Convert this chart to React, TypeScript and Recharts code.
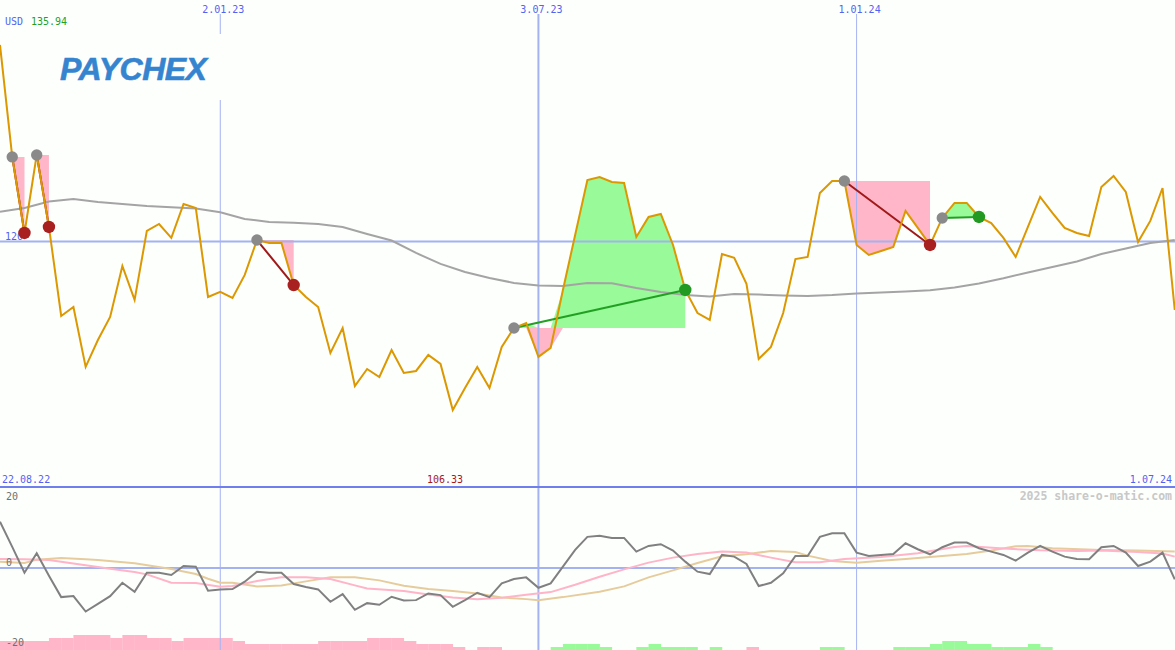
import React from 'react';
import { ComposedChart, Line, Area, Bar, XAxis, YAxis, ReferenceLine } from 'recharts';

// ---------- data ----------
const dateLabels = ['2.01.23', '3.07.23', '1.01.24'];
const dateIdx = [18, 44, 70];
const rangeStart = '22.08.22';
const rangeEnd = '1.07.24';
const currency = 'USD';
const maxLabel = '135.94';
const minLabel = '106.33';
const priceLevel = 120;
const oscTicks = ['20', '0', '-20'];
const watermark = '2025 share-o-matic.com';

const price = [
  135.94, 126.86, 120.69, 127.02, 121.18, 113.96, 114.69, 109.83, 112.01, 113.88,
  118.02, 115.26, 120.86, 121.42, 120.29, 123.04, 122.72, 115.5, 115.91, 115.42,
  117.29, 120.12, 119.88, 119.88, 116.47, 115.5, 114.69, 110.96, 112.99, 108.28,
  109.66, 109.01, 111.2, 109.34, 109.5, 110.8, 110.07, 106.33, 108.12, 109.83,
  108.12, 111.45, 112.99, 113.39, 110.64, 111.37, 116.07, 120.53, 124.99, 125.23,
  124.83, 124.75, 120.37, 121.99, 122.23, 119.72, 116.07, 114.2, 113.64, 118.99,
  118.67, 116.56, 110.47, 111.45, 114.2, 118.58, 118.75, 123.94, 124.91, 124.91,
  119.72, 118.91, 119.23, 119.56, 122.48, 121.1, 119.72, 121.91, 123.13, 123.13,
  121.99, 121.5, 120.29, 118.75, 121.18, 123.61, 122.32, 121.1, 120.69, 120.45,
  124.42, 125.32, 124.02, 119.96, 121.67, 124.34, 114.45,
];

const maIdx = [0, 2, 4, 6, 8, 10, 12, 14, 16, 18, 20, 22, 24, 26, 28, 30, 32, 34, 36, 38, 40, 42, 44, 46, 48, 50, 52, 54, 56, 58, 60, 62, 64, 66, 68, 70, 72, 74, 76, 78, 80, 82, 84, 86, 88, 90, 92, 94, 96];
const maVal = [122.42, 122.72, 123.25, 123.45, 123.21, 123.04, 122.88, 122.78, 122.68, 122.37, 121.83, 121.58, 121.53, 121.42, 121.18, 120.61, 120.08, 119.07, 118.18, 117.53, 117.04, 116.64, 116.43, 116.39, 116.64, 116.61, 116.23, 115.91, 115.66, 115.53, 115.75, 115.7, 115.62, 115.58, 115.66, 115.79, 115.87, 115.95, 116.05, 116.27, 116.6, 117.02, 117.49, 117.94, 118.38, 118.99, 119.44, 119.88, 120.12];

const osc = [
  13.8, 6.3, -1.4, 4.4, -2.3, -8.7, -8.4, -13.0, -10.7, -8.4,
  -4.4, -7.1, -1.4, -1.4, -2.1, 0.6, 0.4, -6.8, -6.4, -6.3,
  -4.1, -1.1, -1.4, -1.4, -4.8, -5.7, -6.4, -10.1, -7.8, -12.5,
  -10.5, -11.0, -8.6, -9.7, -9.6, -7.6, -8.1, -11.6, -9.6, -7.4,
  -8.7, -4.6, -3.3, -2.8, -5.9, -4.6, 0.4, 5.4, 9.3, 9.6,
  9.0, 9.0, 4.9, 6.6, 7.1, 5.2, 1.9, -1.1, -1.8, 3.9,
  3.4, 1.2, -5.4, -4.4, -1.6, 3.6, 3.6, 9.3, 10.4, 10.4,
  4.6, 3.6, 3.9, 4.2, 7.4, 5.6, 4.1, 6.2, 7.6, 7.6,
  5.9, 4.9, 3.9, 2.2, 4.6, 6.6, 4.9, 3.4, 2.7, 2.6,
  6.2, 6.6, 4.6, 0.6, 1.9, 4.6, -3.4,
];

const fastIdx = [0, 2, 4, 7, 9, 11, 12, 14, 16, 18, 19, 21, 23, 25, 27, 29, 30, 33, 35, 37, 39, 41, 43, 45, 47, 49, 51, 53, 55, 57, 59, 61, 63, 65, 67, 69, 72, 75, 78, 79, 82, 85, 88, 90, 93, 95, 96];
const fastVal = [2.7, 2.6, 2.4, 0.8, -0.2, -1.2, -1.9, -4.4, -4.5, -5.6, -5.4, -3.9, -2.8, -2.8, -3.3, -5.2, -6.1, -6.9, -7.9, -8.8, -9.3, -8.9, -8.0, -7.2, -5.0, -2.6, -0.4, 1.6, 3.1, 4.2, 4.9, 4.6, 3.1, 1.7, 1.7, 2.7, 3.3, 4.4, 6.3, 6.6, 5.8, 5.3, 5.1, 5.2, 4.8, 4.3, 3.4];

const slowIdx = [0, 2, 3, 5, 7, 8, 11, 14, 16, 17, 18, 19, 21, 23, 25, 27, 29, 31, 33, 35, 37, 39, 41, 43, 44, 46, 49, 51, 53, 55, 57, 59, 61, 63, 65, 66, 68, 70, 72, 74, 76, 79, 81, 83, 84, 86, 90, 93, 96];
const slowVal = [1.9, 1.5, 2.5, 3.0, 2.6, 2.4, 1.4, -0.3, -1.8, -3.2, -4.4, -4.4, -5.5, -5.2, -4.0, -2.8, -2.8, -3.7, -5.3, -6.3, -6.9, -7.6, -8.8, -9.3, -9.6, -8.7, -7.1, -5.5, -2.8, -0.7, 1.5, 3.5, 4.1, 5.1, 4.8, 3.7, 2.1, 1.6, 2.2, 2.7, 3.3, 4.2, 5.2, 6.5, 6.6, 5.9, 5.4, 5.2, 4.9];

const hist = [
  -3, -3, -3, -3, -4, -4, -5, -5, -5, -4,
  -5, -5, -4, -4, -3, -4, -4, -4, -4, -3,
  -2, -2, -2, -2, -2, -2, -3, -3, -3, -3,
  -4, -4, -4, -3, -2, -2, -2, -1, 0, -1,
  -1, 0, 0, 0, 0, 1, 2, 2, 2, 1,
  0, 0, 1, 2, 1, 1, 1, 0, 1, 0,
  0, -1, 0, 0, 0, 0, 0, 1, 1, 0,
  0, 0, 0, 1, 1, 1, 2, 3, 3, 2,
  2, 1, 1, 1, 2, 1, 0, 0, 0, 0,
  0, 0, 0, 0, 0, 0, 0,
];

const tradeStart = [1, 3, 21, 42, 69, 77];
const tradeEnd = [2, 4, 24, 56, 76, 80];

// ---------- table ----------
const rows: any[] = price.map((p, i) => ({ i, price: p, osc: osc[i], hist: hist[i], habs: Math.abs(hist[i]) }));
maIdx.forEach((ix, k) => { rows[ix].ma = maVal[k]; });
fastIdx.forEach((ix, k) => { rows[ix].fast = fastVal[k]; });
slowIdx.forEach((ix, k) => { rows[ix].slow = slowVal[k]; });
tradeStart.forEach((s, k) => {
  const e = tradeEnd[k];
  const lvl = price[s];
  for (let i = s; i <= e; i++) {
    rows[i]['up' + k] = [lvl, Math.max(price[i], lvl)];
    rows[i]['dn' + k] = [Math.min(price[i], lvl), lvl];
  }
  rows[s]['t' + k] = price[s];
  rows[e]['t' + k] = price[e];
});

// ---------- style ----------
const W = 1187;
const BG = '#fdfffd';
const GRID = '#a4b2f2';
const BLUE = '#5064f0';
const MONO = "'DejaVu Sans Mono', monospace";
const PINK = '#ffb6c8';
const LGREEN = '#98fa98';
const PRICE = '#dc9800';

const makeDot = (k: number, win: boolean) => (props: any) => {
  const { cx, cy, index } = props;
  const key = `dot-${k}-${index}`;
  if (cx == null || cy == null || (index !== tradeStart[k] && index !== tradeEnd[k])) return <g key={key} />;
  const isStart = index === tradeStart[k];
  const fill = isStart ? '#8a8a8a' : win ? '#229a22' : '#a82020';
  return <circle key={key} cx={cx} cy={cy} r={isStart ? 5.7 : 6.2} fill={fill} />;
};

const MainChart = () => {
  const children: any[] = [];
  dateIdx.forEach((x, k) => {
    children.push(
      <ReferenceLine
        key={'v' + k}
        x={x}
        stroke={GRID}
        strokeWidth={k === 1 ? 2 : 1}
        label={(p: any) => {
          const vb = p.viewBox || {};
          return (
            <text x={(vb.x ?? 0) + 3} y={(vb.y ?? 14) - 1} textAnchor="middle" fill={BLUE} fontSize={10} fontFamily={MONO}>
              {dateLabels[k]}
            </text>
          );
        }}
      />
    );
  });
  children.push(
    <ReferenceLine
      key="h120"
      y={priceLevel}
      stroke={GRID}
      strokeWidth={2}
      label={(p: any) => {
        const vb = p.viewBox || {};
        return (
          <text x={5} y={(vb.y ?? 243) - 1} fill={BLUE} fontSize={10} fontFamily={MONO}>
            {String(priceLevel)}
          </text>
        );
      }}
    />
  );
  tradeStart.forEach((s, k) => {
    children.push(
      <Area key={'up' + k} dataKey={'up' + k} type="linear" stroke="none" fill={LGREEN} fillOpacity={1} dot={false} activeDot={false} isAnimationActive={false} />
    );
    children.push(
      <Area key={'dn' + k} dataKey={'dn' + k} type="linear" stroke="none" fill={PINK} fillOpacity={1} dot={false} activeDot={false} isAnimationActive={false} />
    );
  });
  children.push(
    <Line key="ma" dataKey="ma" type="linear" connectNulls stroke="#a4a4a4" strokeWidth={2} dot={false} activeDot={false} isAnimationActive={false} />
  );
  tradeStart.forEach((s, k) => {
    const win = price[tradeEnd[k]] > price[s];
    children.push(
      <Line
        key={'t' + k}
        dataKey={'t' + k}
        type="linear"
        connectNulls
        stroke={win ? '#22a022' : '#a01818'}
        strokeWidth={2}
        dot={makeDot(k, win)}
        activeDot={false}
        isAnimationActive={false}
      />
    );
  });
  children.push(
    <Line key="price" dataKey="price" type="linear" stroke={PRICE} strokeWidth={2} dot={false} activeDot={false} isAnimationActive={false} />
  );
  return (
    <ComposedChart width={W} height={487} data={rows} margin={{ top: 14, right: 0, bottom: 0, left: 0 }}>
      <XAxis dataKey="i" type="number" domain={[0, 97]} hide />
      <YAxis type="number" domain={[100.09, 138.45]} hide />
      {children}
    </ComposedChart>
  );
};

const LowerChart = () => {
  const children: any[] = [];
  dateIdx.forEach((x, k) => {
    children.push(
      <ReferenceLine key={'lv' + k} xAxisId="n" yAxisId="o" x={x} stroke={GRID} strokeWidth={k === 1 ? 2 : 1} />
    );
  });
  children.push(
    <Bar
      key="hist"
      xAxisId="c"
      yAxisId="h"
      dataKey="habs"
      isAnimationActive={false}
      shape={(p: any) =>
        p.height > 0 ? (
          <rect x={p.x} y={p.y} width={p.width + 0.5} height={p.height} fill={p.payload.hist < 0 ? PINK : LGREEN} />
        ) : (
          <g />
        )
      }
    />
  );
  children.push(<ReferenceLine key="zero" xAxisId="n" yAxisId="o" y={0} stroke={GRID} strokeWidth={2} />);
  children.push(
    <Line key="slow" xAxisId="n" yAxisId="o" dataKey="slow" type="linear" connectNulls stroke="#e6cc9c" strokeWidth={2} dot={false} activeDot={false} isAnimationActive={false} />
  );
  children.push(
    <Line key="fast" xAxisId="n" yAxisId="o" dataKey="fast" type="linear" connectNulls stroke="#ffb4c8" strokeWidth={2} dot={false} activeDot={false} isAnimationActive={false} />
  );
  children.push(
    <Line key="osc" xAxisId="n" yAxisId="o" dataKey="osc" type="linear" stroke="#808080" strokeWidth={2} dot={false} activeDot={false} isAnimationActive={false} />
  );
  return (
    <ComposedChart width={W} height={163} data={rows} margin={{ top: 0, right: 0, bottom: 0, left: 0 }} barCategoryGap={0} barGap={0}>
      <XAxis xAxisId="n" dataKey="i" type="number" domain={[0, 97]} hide />
      <XAxis xAxisId="c" dataKey="i" type="category" hide />
      <YAxis yAxisId="o" type="number" domain={[-24.5, 24.2]} hide />
      <YAxis yAxisId="h" type="number" domain={[0, 54.33]} hide />
      {children}
    </ComposedChart>
  );
};

export default function App() {
  return (
    <div style={{ position: 'relative', width: 1175, height: 650, overflow: 'hidden', background: BG }}>
      <style>{'body{margin:0;}'}</style>
      <div style={{ position: 'absolute', left: 0, top: 0 }}>
        <MainChart />
      </div>
      <div style={{ position: 'absolute', left: 0, top: 487 }}>
        <LowerChart />
      </div>
      <svg width={1175} height={650} style={{ position: 'absolute', left: 0, top: 0, pointerEvents: 'none' }}>
        <text x={5} y={25} fontFamily={MONO} fontSize={10} fill={BLUE}>{currency}</text>
        <text x={31} y={25} fontFamily={MONO} fontSize={10} fill="#22a022">{maxLabel}</text>
        <rect x={18} y={34} width={208} height={66} fill={BG} />
        <text
          x={60}
          y={80}
          fontFamily="'Liberation Sans', Arial, sans-serif"
          fontWeight="bold"
          fontStyle="italic"
          fontSize={32}
          letterSpacing={-0.5}
          stroke="#3584d0"
          strokeWidth={0.6}
          fill="#3584d0"
        >
          PAYCHEX
        </text>
        <text x={2} y={483} fontFamily={MONO} fontSize={10} fill={BLUE}>{rangeStart}</text>
        <text x={445} y={483} textAnchor="middle" fontFamily={MONO} fontSize={10} fill="#a81818">{minLabel}</text>
        <text x={1172} y={483} textAnchor="end" fontFamily={MONO} fontSize={10} fill={BLUE}>{rangeEnd}</text>
        <rect x={0} y={486} width={1175} height={2} fill="#6f80ee" />
        <text x={1172} y={500} textAnchor="end" fontFamily={MONO} fontSize={11.5} fontWeight="bold" fill="#c8c8c8">{watermark}</text>
        <text x={6} y={499.5} fontFamily={MONO} fontSize={10} fill="#707070">{oscTicks[0]}</text>
        <text x={6} y={566} fontFamily={MONO} fontSize={10} fill="#707070">{oscTicks[1]}</text>
        <text x={6} y={646} fontFamily={MONO} fontSize={10} fill="#707070">{oscTicks[2]}</text>
      </svg>
    </div>
  );
}
